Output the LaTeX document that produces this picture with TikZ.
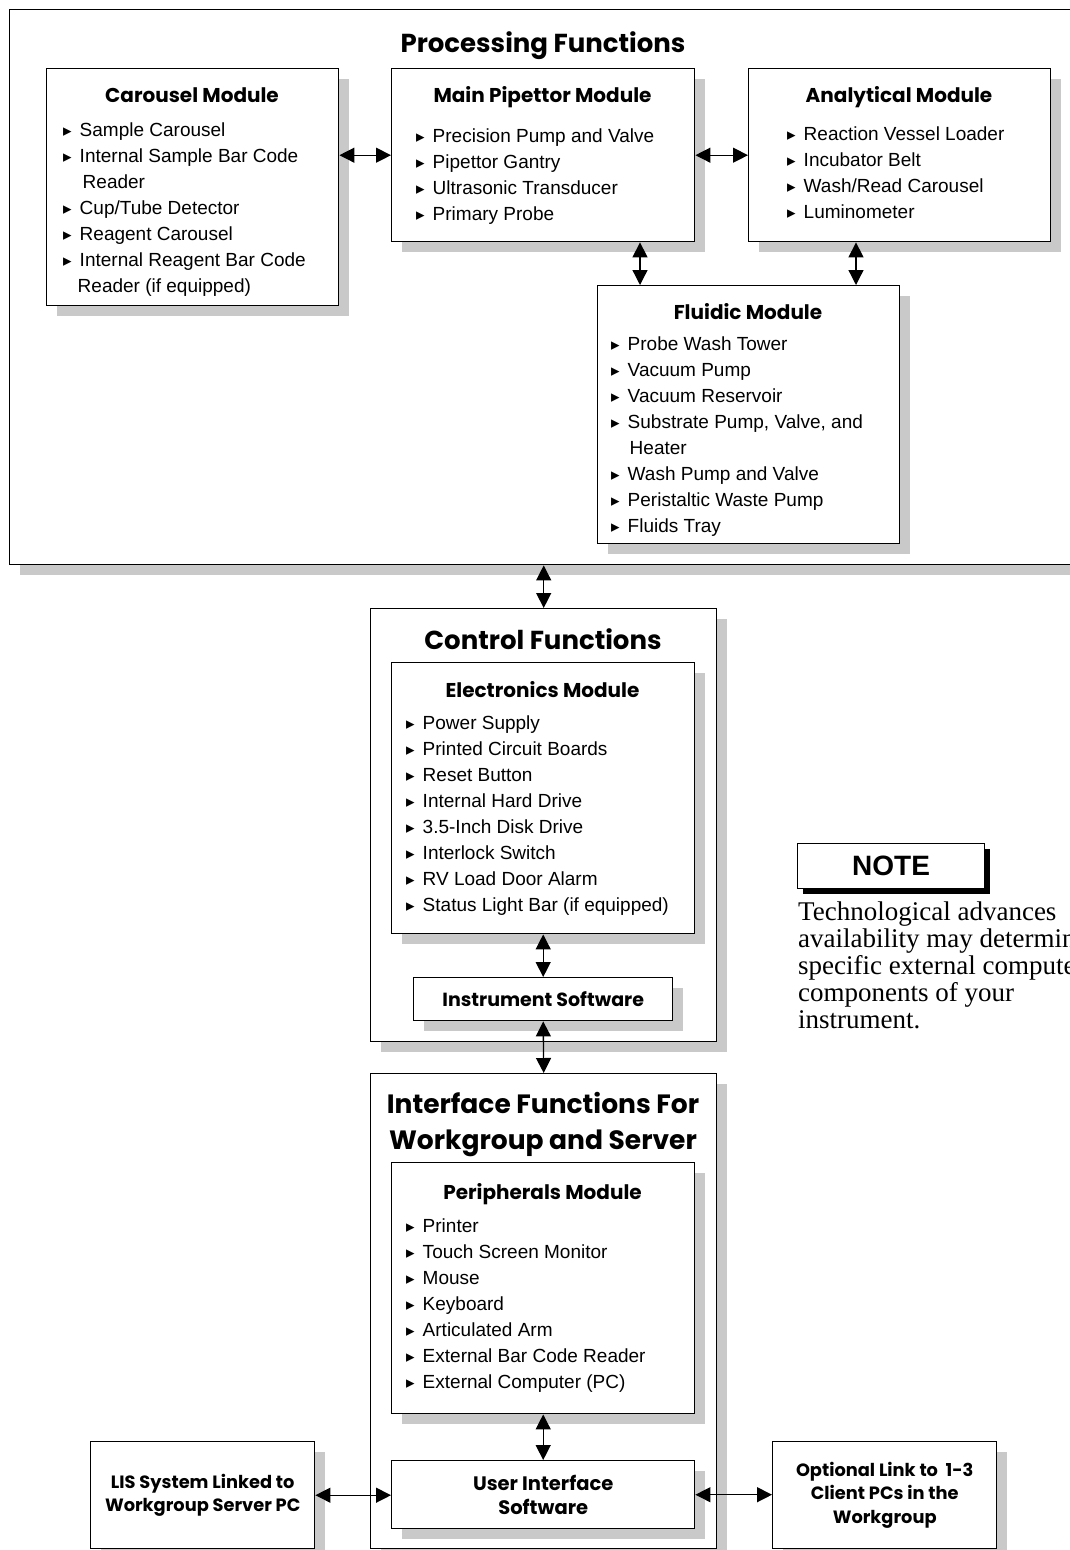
\documentclass[tikz,border=0pt]{standalone}
\usepackage{fontspec}
\setmainfont{Liberation Sans}
\newfontfamily\headfont{Poppins}
\newfontfamily\notefont{Liberation Serif}
\newfontfamily\symfont{DejaVu Sans}
\usetikzlibrary{arrows.meta,shadows}
\definecolor{shade}{gray}{0.79}
% bullet for the component lists
\newcommand{\bul}{{\symfont\fontsize{17}{17}\selectfont ▸}\hspace{8pt}}
\newcommand{\ind}{\hphantom{\bul}}
\tikzset{
  box/.style={draw=black, line width=1.4pt, fill=white, inner sep=0pt, anchor=north west,
    drop shadow={shadow xshift=10pt, shadow yshift=-10pt, fill=shade, opacity=1}},
  frame/.style={box},
  notebox/.style={draw=black, line width=1.2pt, fill=white, inner sep=0pt, anchor=north west,
    drop shadow={shadow xshift=5pt, shadow yshift=-5pt, fill=black, opacity=1}},
  title/.style={font=\headfont\bfseries\fontsize{26}{36}\selectfont, align=center, inner sep=0pt},
  onetitle/.style={title, text height=18pt, text depth=0pt},
  head/.style={font=\headfont\bfseries\fontsize{20}{22}\selectfont, inner sep=0pt,
    text height=14pt, text depth=0pt},
  items/.style={font=\fontsize{19}{26}\selectfont, align=left, inner sep=0pt, anchor=north west},
  label/.style={font=\headfont\bfseries\fontsize{17.8}{23.5}\selectfont, align=center, inner sep=0pt},
  dbl/.style={{Triangle[length=15pt,width=15pt]}-{Triangle[length=15pt,width=15pt]}, line width=1.3pt},
}
\begin{document}
\begin{tikzpicture}[x=1pt, y=-1pt]
\useasboundingbox (0,0) rectangle (1070,1550);
\fill[white] (0,0) rectangle (1070,1550);

% ---------------- processing functions ----------------
\node[frame, minimum width=1080pt, minimum height=555pt] (proc) at (9,9) {};
\node[onetitle] (proctitle) at (543,43) {Processing Functions};

\node[box, minimum width=292pt, minimum height=237pt] (car) at (46,68) {};
\node[head] (carhead) at (192,95) {Carousel Module};
\node[items] (caritems) at (63,123) {\bul Sample Carousel\\
  \bul Internal Sample Bar Code\\
  \ind\hspace{3pt}Reader\\
  \bul Cup/Tube Detector\\
  \bul Reagent Carousel\\
  \bul Internal Reagent Bar Code\\
  \ind\hspace{-2pt}Reader (if equipped)};

\node[box, minimum width=303pt, minimum height=173pt] (main) at (391,68) {};
\node[head] (mainhead) at (542.5,95) {Main Pipettor Module};
\node[items] (mainitems) at (416,129) {\bul Precision Pump and Valve\\
  \bul Pipettor Gantry\\
  \bul Ultrasonic Transducer\\
  \bul Primary Probe};

\node[box, minimum width=302pt, minimum height=173pt] (ana) at (748,68) {};
\node[head] (anahead) at (899,95) {Analytical Module};
\node[items] (anaitems) at (787,127) {\bul Reaction Vessel Loader\\
  \bul Incubator Belt\\
  \bul Wash/Read Carousel\\
  \bul Luminometer};

\node[box, minimum width=302pt, minimum height=258pt] (fluid) at (597,285) {};
\node[head] (fluidhead) at (748,312) {Fluidic Module};
\node[items] (fluiditems) at (611,337) {\bul Probe Wash Tower\\
  \bul Vacuum Pump\\
  \bul Vacuum Reservoir\\
  \bul Substrate Pump, Valve, and\\
  \ind\hspace{2pt}Heater\\
  \bul Wash Pump and Valve\\
  \bul Peristaltic Waste Pump\\
  \bul Fluids Tray};

\draw[dbl] (car.east |- main.west) -- (main.west);
\draw[dbl] (main.east) -- (ana.west);
\draw[dbl] (main.south -| 640,0) -- (fluid.north -| 640,0);
\draw[dbl] (ana.south -| 856,0) -- (fluid.north -| 856,0);

% ---------------- control functions ----------------
\node[box, minimum width=346pt, minimum height=433pt] (ctrl) at (370,608) {};
\node[onetitle] (ctrltitle) at (543,640) {Control Functions};

\node[box, minimum width=303pt, minimum height=271pt] (elec) at (391,662) {};
\node[head] (elechead) at (542.5,690) {Electronics Module};
\node[items] (elecitems) at (406,716) {\bul Power Supply\\
  \bul Printed Circuit Boards\\
  \bul Reset Button\\
  \bul Internal Hard Drive\\
  \bul 3.5-Inch Disk Drive\\
  \bul Interlock Switch\\
  \bul RV Load Door Alarm\\
  \bul Status Light Bar (if equipped)};

\node[box, minimum width=259pt, minimum height=43pt] (instr) at (413,977) {};
\node[label, font=\headfont\bfseries\fontsize{19}{22}\selectfont] (instrtext) at (instr.center) {Instrument Software};

\draw[dbl] (proc.south -| ctrl.north) -- (ctrl.north);
\draw[dbl] (elec.south) -- (instr.north);

% ---------------- interface functions ----------------
\node[box, minimum width=346pt, minimum height=475pt] (iface) at (370,1073) {};
\node[title, font=\headfont\bfseries\fontsize{26.5}{36}\selectfont] (ifacetitle) at (543,1125) {Interface Functions For\\Workgroup and Server};

\node[box, minimum width=303pt, minimum height=251pt] (peri) at (391,1162) {};
\node[head] (perihead) at (542.5,1192) {Peripherals Module};
\node[items] (periitems) at (406,1219) {\bul Printer\\
  \bul Touch Screen Monitor\\
  \bul Mouse\\
  \bul Keyboard\\
  \bul Articulated Arm\\
  \bul External Bar Code Reader\\
  \bul External Computer (PC)};

\node[box, minimum width=303pt, minimum height=68pt] (uis) at (391,1460) {};
\node[label, font=\headfont\bfseries\fontsize{19.5}{24}\selectfont] (uistext) at (uis.center) {User Interface\\Software};

\node[box, minimum width=224pt, minimum height=107pt] (lis) at (90,1441) {};
\node[label] (listext) at (lis.center) {LIS System Linked to\\Workgroup Server PC};

\node[box, minimum width=224pt, minimum height=107pt] (opt) at (772,1441) {};
\node[label] (opttext) at (opt.center) {Optional Link to\ \ 1-3\\Client PCs in the\\Workgroup};

\draw[dbl] (instr.south) -- (iface.north);
\draw[dbl] (peri.south) -- (uis.north);
\draw[dbl] (lis.east) -- (lis.east -| uis.west);
\draw[dbl] (uis.east) -- (uis.east -| opt.west);

% ---------------- note ----------------
\node[notebox, minimum width=187pt, minimum height=45pt] (note) at (797,843) {};
\node[font=\bfseries\fontsize{28}{30}\selectfont, inner sep=0pt] (notehead) at (note.center) {NOTE};
\node[font=\notefont\fontsize{27}{27}\selectfont, align=left, inner sep=0pt, anchor=north west]
  (notetext) at (798,902) {Technological advances\\
  availability may determine the\\
  specific external computer\\
  components of your\\
  instrument.};
\end{tikzpicture}
\end{document}
